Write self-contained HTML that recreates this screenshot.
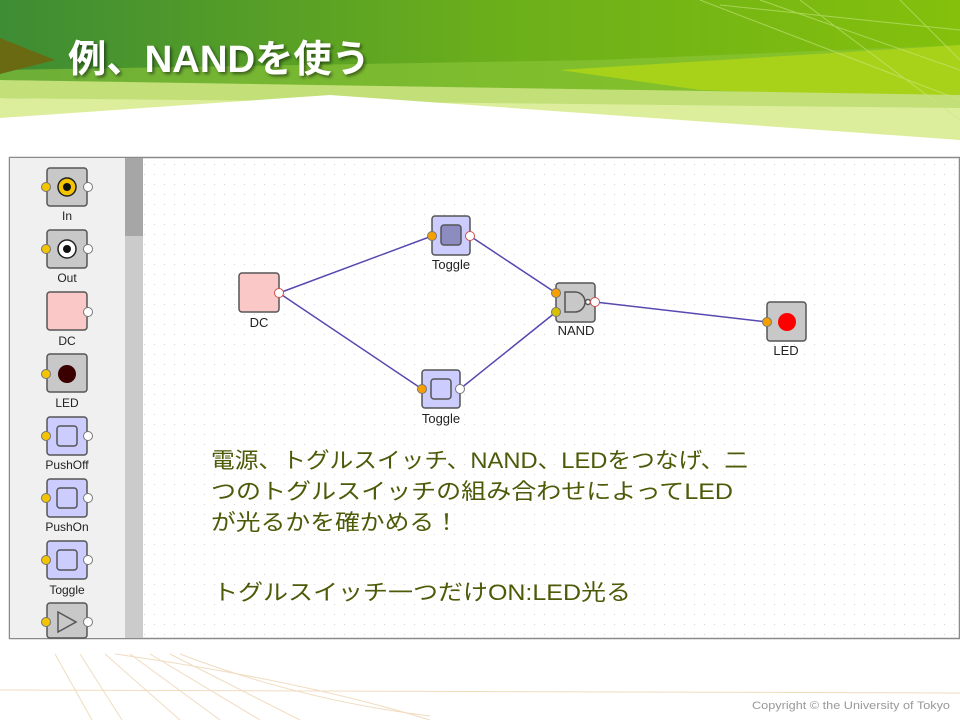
<!DOCTYPE html>
<html><head><meta charset="utf-8"><style>
html,body{margin:0;padding:0;width:960px;height:720px;overflow:hidden;background:#fff}
svg{display:block}
text{font-family:"Liberation Sans","Noto Sans CJK JP",sans-serif}
</style></head><body>
<svg width="960" height="720" viewBox="0 0 960 720" xmlns="http://www.w3.org/2000/svg">
<defs>
<linearGradient id="hg" x1="0" y1="0" x2="1" y2="0">
<stop offset="0" stop-color="#3e8c34"/><stop offset="0.5" stop-color="#6aae1c"/><stop offset="1" stop-color="#84c00c"/></linearGradient>
<pattern id="dots" width="10" height="10" patternUnits="userSpaceOnUse">
<rect x="4" y="4" width="1" height="1" fill="#d4d4d4"/></pattern>
<filter id="sh" x="-5%" y="-20%" width="110%" height="150%"><feDropShadow dx="2" dy="2" stdDeviation="1.5" flood-color="#000" flood-opacity="0.5"/></filter>
</defs>
<rect x="0" y="0" width="960" height="140" fill="url(#hg)"/>
<polygon points="0,70 600,60 960,45 960,100 0,80" fill="#8cc63a" opacity="0.6"/>
<polygon points="560,70 960,45 960,100 700,90" fill="#a8d21a"/>
<polygon points="0,80 960,95 960,112 0,98" fill="#c2df78"/>
<polygon points="0,98 960,108 960,140 0,118" fill="#dcee9c"/>
<polygon points="0,118 330,95 960,140 960,160 0,160" fill="#fff"/>
<polygon points="0,38 55,60 0,74" fill="#6a6a12"/>
<g stroke="#c8e880" stroke-width="1" opacity="0.6" fill="none">
<line x1="700" y1="0" x2="960" y2="100"/><line x1="760" y1="0" x2="960" y2="70"/>
<line x1="800" y1="0" x2="960" y2="120"/><line x1="900" y1="0" x2="960" y2="60"/>
<line x1="720" y1="5" x2="960" y2="30"/>
</g>
<text x="68" y="72" font-size="38" font-weight="bold" fill="#fff" filter="url(#sh)" textLength="302" lengthAdjust="spacingAndGlyphs">例、NANDを使う</text>
<rect x="9.5" y="157.5" width="950" height="481" fill="#fff" stroke="#8a8a8a" stroke-width="1.5"/>
<rect x="10" y="158" width="115" height="480" fill="#f0f0f0"/>
<rect x="125" y="158" width="18" height="480" fill="#cbcbcb"/>
<rect x="125" y="158" width="18" height="78" fill="#a6a6a6"/>
<rect x="143" y="158" width="816" height="480" fill="url(#dots)"/>
<g stroke="#555" stroke-width="1.5">
<rect x="47" y="168" width="40" height="38" rx="3" fill="#c8c8c8"/>
<circle cx="67" cy="187" r="9" fill="#f5c400" stroke="#222"/><circle cx="67" cy="187" r="4" fill="#111" stroke="none"/>
<rect x="47" y="230" width="40" height="38" rx="3" fill="#c8c8c8"/>
<circle cx="67" cy="249" r="9" fill="#fff" stroke="#222"/><circle cx="67" cy="249" r="4" fill="#111" stroke="none"/>
<rect x="47" y="292" width="40" height="38" rx="3" fill="#fbc8c8"/>
<rect x="47" y="354" width="40" height="38" rx="3" fill="#c8c8c8"/>
<circle cx="67" cy="374" r="9" fill="#3a0000" stroke="none"/>
<rect x="47" y="417" width="40" height="38" rx="3" fill="#ccccff"/><rect x="57" y="426" width="20" height="20" rx="3" fill="#ccccff"/>
<rect x="47" y="479" width="40" height="38" rx="3" fill="#ccccff"/><rect x="57" y="488" width="20" height="20" rx="3" fill="#ccccff"/>
<rect x="47" y="541" width="40" height="38" rx="3" fill="#ccccff"/><rect x="57" y="550" width="20" height="20" rx="3" fill="#ccccff"/>
<rect x="47" y="603" width="40" height="35" rx="3" fill="#c8c8c8"/><polygon points="58,612 58,632 76,622" fill="none"/>
</g>
<g stroke="#777" stroke-width="1">
<circle cx="46" cy="187" r="4.5" fill="#f5c400"/><circle cx="88" cy="187" r="4.5" fill="#fff"/>
<circle cx="46" cy="249" r="4.5" fill="#f5c400"/><circle cx="88" cy="249" r="4.5" fill="#fff"/>
<circle cx="88" cy="312" r="4.5" fill="#fff"/>
<circle cx="46" cy="374" r="4.5" fill="#f5c400"/>
<circle cx="46" cy="436" r="4.5" fill="#f5c400"/><circle cx="88" cy="436" r="4.5" fill="#fff"/>
<circle cx="46" cy="498" r="4.5" fill="#f5c400"/><circle cx="88" cy="498" r="4.5" fill="#fff"/>
<circle cx="46" cy="560" r="4.5" fill="#f5c400"/><circle cx="88" cy="560" r="4.5" fill="#fff"/>
<circle cx="46" cy="622" r="4.5" fill="#f5c400"/><circle cx="88" cy="622" r="4.5" fill="#fff"/>
</g>
<g font-size="12" fill="#222" text-anchor="middle">
<text x="67" y="220">In</text><text x="67" y="282">Out</text><text x="67" y="345">DC</text>
<text x="67" y="407">LED</text><text x="67" y="469">PushOff</text><text x="67" y="531">PushOn</text><text x="67" y="594">Toggle</text>
</g>
<g stroke="#5548b0" stroke-width="1.5">
<line x1="279" y1="293" x2="432" y2="236"/><line x1="279" y1="293" x2="422" y2="389"/>
<line x1="470" y1="236" x2="556" y2="293"/><line x1="460" y1="389" x2="556" y2="312"/>
<line x1="595" y1="302" x2="767" y2="322"/>
</g>
<g stroke="#555" stroke-width="1.5">
<rect x="239" y="273" width="40" height="39" rx="3" fill="#fbc8c8"/>
<rect x="432" y="216" width="38" height="39" rx="3" fill="#ccccff"/><rect x="441" y="225" width="20" height="20" rx="3" fill="#8c8cc0"/>
<rect x="422" y="370" width="38" height="38" rx="3" fill="#ccccff"/><rect x="431" y="379" width="20" height="20" rx="3" fill="#ccccff"/>
<rect x="556" y="283" width="39" height="39" rx="3" fill="#c8c8c8"/>
<path d="M565,292 h10 a10,10 0 0 1 0,20 h-10 z" fill="none"/><circle cx="588" cy="302" r="2.5" fill="#fff"/>
<rect x="767" y="302" width="39" height="39" rx="3" fill="#c8c8c8"/>
<circle cx="787" cy="322" r="9" fill="#f00" stroke="none"/>
</g>
<g stroke="#777" stroke-width="1">
<circle cx="279" cy="293" r="4.5" fill="#fff" stroke="#d05050"/>
<circle cx="432" cy="236" r="4.5" fill="#f5a000"/><circle cx="470" cy="236" r="4.5" fill="#fff" stroke="#d05050"/>
<circle cx="422" cy="389" r="4.5" fill="#f5a000"/><circle cx="460" cy="389" r="4.5" fill="#fff"/>
<circle cx="556" cy="293" r="4.5" fill="#f5a000"/><circle cx="556" cy="312" r="4.5" fill="#d8c000"/>
<circle cx="595" cy="302" r="4.5" fill="#fff" stroke="#d05050"/>
<circle cx="767" cy="322" r="4.5" fill="#f5a000"/>
</g>
<g font-size="13" fill="#222" text-anchor="middle">
<text x="259" y="327">DC</text><text x="451" y="269">Toggle</text><text x="441" y="423">Toggle</text>
<text x="576" y="335">NAND</text><text x="786" y="355">LED</text>
</g>
<g font-size="22" fill="#4e5a08">
<text x="211" y="468" textLength="537" lengthAdjust="spacingAndGlyphs">電源、トグルスイッチ、NAND、LEDをつなげ、二</text>
<text x="211" y="499" textLength="522" lengthAdjust="spacingAndGlyphs">つのトグルスイッチの組み合わせによってLED</text>
<text x="211" y="530" textLength="248" lengthAdjust="spacingAndGlyphs">が光るかを確かめる！</text>
<text x="213" y="600" textLength="418" lengthAdjust="spacingAndGlyphs">トグルスイッチ一つだけON:LED光る</text>
</g>
<g stroke="#f0dcc0" stroke-width="1" fill="none">
<line x1="0" y1="690" x2="960" y2="693"/>
<line x1="55" y1="654" x2="92" y2="720"/><line x1="80" y1="654" x2="122" y2="720"/>
<line x1="105" y1="654" x2="180" y2="720"/><line x1="130" y1="654" x2="220" y2="720"/>
<line x1="150" y1="654" x2="260" y2="720"/><line x1="170" y1="654" x2="300" y2="720"/>
<path d="M115,654 Q300,680 430,720"/><path d="M180,654 Q300,700 430,716"/>
</g>
<text x="752" y="709" font-size="11" fill="#999" textLength="198" lengthAdjust="spacingAndGlyphs">Copyright © the University of Tokyo</text>
</svg>
</body></html>
